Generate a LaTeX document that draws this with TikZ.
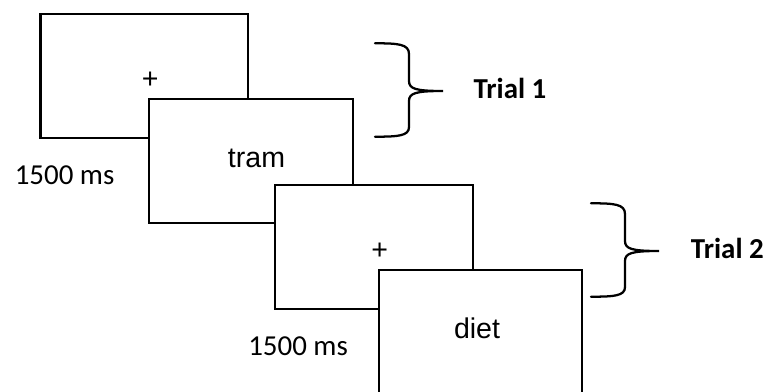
\documentclass[tikz,border=0pt]{standalone}
\usepackage{fontspec}
\setmainfont{Carlito}
\newfontfamily\arialfont{Liberation Sans}
\begin{document}
\begin{tikzpicture}[x=0.75pt,y=-0.75pt,
  screen/.style={draw=black, fill=white, line width=1.7pt, anchor=north west,
    inner sep=0pt, outer sep=0pt, minimum width=#1*0.75pt, minimum height=124*0.75pt},
  stim/.style={font=\arialfont\fontsize{21.4}{24}\selectfont, inner sep=0pt, anchor=base},
  dur/.style={font=\fontsize{21.7}{24}\selectfont, inner sep=0pt, anchor=base west},
  trial/.style={font=\bfseries\fontsize{21.7}{24}\selectfont, inner sep=0pt, anchor=base west},
  curly/.style={line width=1.7pt, line cap=round}]
\useasboundingbox (0,0) rectangle (768,392);
\clip (0,0) rectangle (768,392);

% four successive screens, each overlapping the previous one
\node[screen=207.5] (fix1) at (40.5,13.7) {};
\node[screen=203.7] (word1) at (149,98.7) {};
\node[screen=198.6] (fix2) at (274.7,184.7) {};
\node[screen=203.3] (word2) at (378.7,270) {};

% screen contents
\node[stim] (plus1) at (150.3,88.3) {+};
\node[stim] (tram) at (256.5,168) {tram};
\node[stim] (plus2) at (379.8,259.3) {+};
\node[stim] (diet) at (477,338.7) {diet};

% durations
\node[dur] (dur1) at (14.5,185) {1500 ms};
\node[dur] (dur2) at (248,355) {1500 ms};

% braces grouping each trial
\foreach \dx/\dy in {0/0, 216/160}{
  \begin{scope}[shift={(\dx,\dy)}]
    \draw[curly] (375,43.3) .. controls (398,43.3) and (409,44) .. (409,54)
      -- (409,81) .. controls (409,89) and (416,91) .. (443,91)
      .. controls (416,91) and (409,93) .. (409,101)
      -- (409,127) .. controls (409,136) and (398,136.7) .. (375,136.7);
  \end{scope}
}

\node[trial] (t1) at (473.3,99) {Trial 1};
\node[trial] (t2) at (690.7,258.3) {Trial 2};
\end{tikzpicture}
\end{document}
